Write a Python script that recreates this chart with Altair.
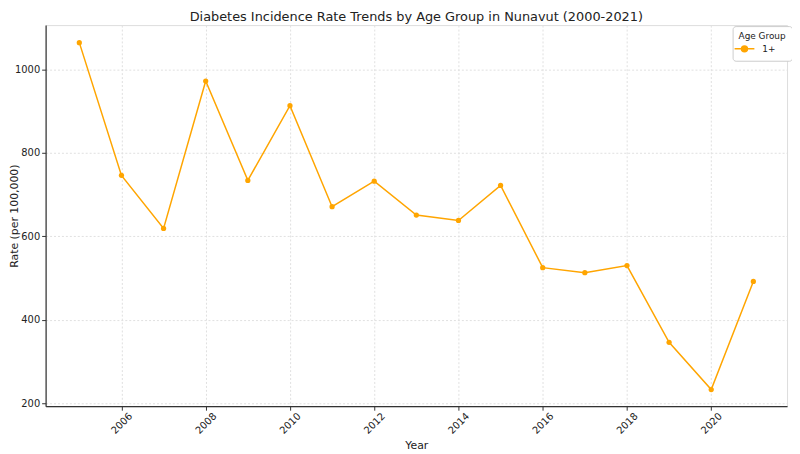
import altair as alt
import pandas as pd

years = [2005, 2006, 2007, 2008, 2009, 2010, 2011, 2012, 2013, 2014, 2015, 2016, 2017, 2018, 2019, 2020, 2021]
rates = [1064, 746, 619, 972, 734, 913, 671, 732, 651, 638, 722, 525, 513, 530, 346, 233, 492]
groups = ["1+"] * len(years)
x_ticks = [2006, 2008, 2010, 2012, 2014, 2016, 2018, 2020]
y_ticks = [200, 400, 600, 800, 1000]

df = pd.DataFrame({"Year": years, "Rate": rates, "Age Group": groups})

FONT = "DejaVu Sans"
ORANGE = "#FFA500"

legend_symbol = "M-2,0L2,0M-0.6,0A0.6,0.6 0 1,1 0.6,0A0.6,0.6 0 1,1 -0.6,0Z"

base = alt.Chart(df).encode(
    x=alt.X("Year:Q",
            scale=alt.Scale(domain=[2004.2, 2021.8], nice=False, zero=False),
            axis=alt.Axis(values=x_ticks, format="d", title="Year", labelAngle=-45,
                          labelAlign="center", labelBaseline="middle", labelPadding=13,
                          tickSize=4, tickColor="#333333", domainColor="#333333",
                          domainWidth=1.2, gridDash=[2, 2], gridColor="#e0e0e0",
                          labelFontSize=10, titleFontSize=11, titlePadding=4,
                          labelColor="#222222", titleColor="#222222",
                          titleFontWeight="normal", labelFont=FONT, titleFont=FONT)),
    y=alt.Y("Rate:Q",
            scale=alt.Scale(domain=[193, 1106], nice=False, zero=False),
            axis=alt.Axis(values=y_ticks, format="d", title="Rate (per 100,000)",
                          tickSize=4, tickColor="#333333", domainColor="#333333",
                          domainWidth=1.2, gridDash=[2, 2], gridColor="#e0e0e0",
                          labelFontSize=10, titleFontSize=11,
                          titleX=-31, titleBaseline="middle",
                          labelColor="#222222", titleColor="#222222",
                          titleFontWeight="normal", labelFont=FONT, titleFont=FONT)),
    color=alt.Color("Age Group:N", scale=alt.Scale(range=[ORANGE]),
                    legend=alt.Legend(title="Age Group", orient="none",
                                      legendX=694, legendY=1,
                                      symbolType=legend_symbol, symbolSize=100,
                                      symbolStrokeWidth=1.5, symbolFillColor=ORANGE,
                                      fillColor="white", strokeColor="#cccccc",
                                      padding=6, cornerRadius=3,
                                      titlePadding=2, rowPadding=0,
                                      titleFontSize=9, labelFontSize=9,
                                      titleFontWeight="normal", labelOffset=12,
                                      titleFont=FONT, labelFont=FONT,
                                      titleColor="#222222", labelColor="#222222")),
)

line = base.mark_line(strokeWidth=1.5)
pts = base.mark_circle(size=28, opacity=1)

chart = (line + pts).properties(
    width=749, height=385,
    title=alt.TitleParams("Diabetes Incidence Rate Trends by Age Group in Nunavut (2000-2021)",
                          fontSize=13, font=FONT, fontWeight="normal", color="#222222",
                          offset=1, anchor="middle"),
    autosize=alt.AutoSizeParams(type="none"),
    padding={"left": 38, "top": 15, "right": 5, "bottom": 46},
).configure_view(stroke=None).configure(background="white")

chart.save("out.html", embed_options={"renderer": "svg", "actions": False})
